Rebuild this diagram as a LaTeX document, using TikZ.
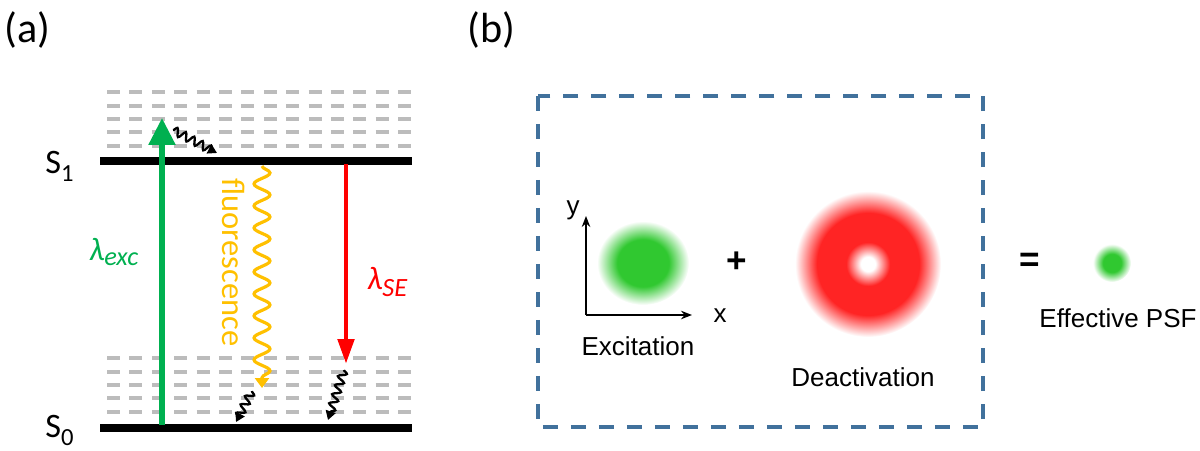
\documentclass[tikz,border=0pt]{standalone}
\usepackage{fontspec}
\setmainfont{Carlito}
\newfontfamily\arialf{Liberation Sans}
\usetikzlibrary{arrows.meta,decorations.pathmorphing}
\definecolor{lvlgray}{RGB}{188,188,188}
\definecolor{excgreen}{RGB}{0,176,80}
\definecolor{sered}{RGB}{255,0,0}
\definecolor{fluoyel}{RGB}{255,192,0}
\definecolor{boxblue}{RGB}{65,113,156}
\definecolor{blobgreen}{RGB}{48,200,48}
\definecolor{donutred}{RGB}{255,36,36}
\pgfdeclareradialshading{gblob}{\pgfpoint{0bp}{0bp}}{color(0bp)=(blobgreen); color(14bp)=(blobgreen); color(25bp)=(white); color(50bp)=(white)}
\pgfdeclareradialshading{gdot}{\pgfpoint{0bp}{0bp}}{color(0bp)=(blobgreen); color(12bp)=(blobgreen); color(25bp)=(white); color(50bp)=(white)}
\pgfdeclareradialshading{rdonut}{\pgfpoint{0bp}{0bp}}{color(0bp)=(white); color(2.5bp)=(white); color(7.5bp)=(donutred); color(17.5bp)=(donutred); color(25bp)=(white); color(50bp)=(white)}
\newcommand{\mysub}[1]{\raisebox{-5pt}{\fontsize{14}{16}\selectfont #1}}
\begin{document}
\begin{tikzpicture}[x=0.02cm,y=-0.02cm,
  panellbl/.style={font=\fontsize{24}{28}\selectfont, inner sep=0pt, anchor=west},
  level/.style={line width=4.5pt, line cap=butt},
  sublevel/.style={draw=lvlgray, line width=2pt, dash pattern=on 0.26cm off 0.188cm},
  statelbl/.style={font=\fontsize{19.5}{22}\selectfont, inner sep=0pt, anchor=base west},
  excarrow/.style={draw=excgreen, line width=3.1pt, -{Triangle[length=0.54cm,width=0.52cm]}},
  searrow/.style={draw=sered, line width=2.8pt, -{Triangle[length=0.5cm,width=0.32cm]}},
  fluowave/.style={draw=fluoyel, line width=1.8pt, decorate,
     decoration={snake, amplitude=0.16cm, segment length=0.44cm, post length=0.14cm},
     -{Triangle[length=0.2cm,width=0.28cm]}},
  relax/.style={draw=black, line width=1.3pt, decorate,
     decoration={snake, amplitude=0.08cm, segment length=0.19cm, post length=0.1cm},
     -{Triangle[length=0.18cm,width=0.2cm]}},
  axisline/.style={draw=black, line width=0.9pt, -{Stealth[length=0.22cm,width=0.17cm]}},
  arlbl/.style={font=\arialf\fontsize{14.8}{17}\selectfont, inner sep=0pt},
  opsym/.style={font=\arialf\bfseries\fontsize{20}{22}\selectfont, inner sep=0pt},
  dashbox/.style={draw=boxblue, line width=2pt, dash pattern=on 0.3cm off 0.26cm}
]
\useasboundingbox (0,0) rectangle (1200,450);

% panel labels
\node[panellbl] (la) at (4,30) {(a)};
\node[panellbl] (lb) at (467,30) {(b)};

% vibrational sublevels
\foreach \yy in {92,106,119,132,146,358,372,385,398,412}
  \draw[sublevel] (107,\yy) -- (412,\yy);

% electronic levels
\coordinate (s1l) at (100,161); \coordinate (s1r) at (412,161);
\coordinate (s0l) at (100,428); \coordinate (s0r) at (412,428);
\draw[level] (s1l) -- (s1r);
\draw[level] (s0l) -- (s0r);
\node[statelbl] (s1) at (45,173) {S\mysub{1}};
\node[statelbl] (s0) at (45,437) {S\mysub{0}};

% excitation arrow
\coordinate (g0) at (162,425); \coordinate (g1) at (162,118);
\draw[excarrow] (g0) -- (g1);
\node[statelbl, text=excgreen, font=\fontsize{18.5}{20}\selectfont\itshape] (lexc) at (89,260) {λ\raisebox{-3pt}{\fontsize{15}{17}\selectfont exc}};

% stimulated emission arrow
\coordinate (r0) at (346,164); \coordinate (r1) at (346,364);
\draw[searrow] (r0) -- (r1);
\node[statelbl, text=sered, font=\fontsize{18.5}{20}\selectfont\itshape] (lse) at (367,289) {λ\raisebox{-4pt}{\fontsize{15}{17}\selectfont SE}};

% fluorescence
\coordinate (f0) at (262,166); \coordinate (f1) at (262,388);
\draw[fluowave] (f0) -- (f1);
\node[statelbl, text=fluoyel, rotate=-90, font=\fontsize{18.5}{20}\selectfont] (lfl) at (222,178) {fluorescence};

% vibrational relaxation
\coordinate (v0) at (173,130); \coordinate (v1) at (217,153);
\draw[relax] (v0) -- (v1);
\coordinate (v2) at (252,391); \coordinate (v3) at (236,422);
\draw[relax] (v2) -- (v3);
\coordinate (v4) at (344,370); \coordinate (v5) at (328,420);
\draw[relax] (v4) -- (v5);

% panel b box
\coordinate (bx0) at (538,96); \coordinate (bx1) at (983,427);
\draw[dashbox] (bx0) rectangle (bx1);

% axes
\coordinate (ao) at (586,315); \coordinate (ay) at (586,216); \coordinate (ax) at (692,315);
\draw[axisline] (ao) -- (ay);
\draw[axisline] (ao) -- (ax);
\node[arlbl] (ylbl) at (573,210) {y};
\node[arlbl] (xlbl) at (720,316) {x};

% excitation spot
\shade[shading=gblob] (643,263) ellipse [x radius=0.92cm, y radius=0.84cm];
\node[arlbl] (lexcit) at (638,346) {Excitation};

\node[opsym] (plus) at (737,262) {+};

% deactivation donut
\shade[shading=rdonut] (868,264) circle [radius=1.46cm];
\node[arlbl] (ldeact) at (863,377) {Deactivation};

\node[opsym] (eq) at (1030,262) {=};

% effective PSF
\shade[shading=gdot] (1112,263) circle [radius=0.38cm];
\node[arlbl] (lpsf) at (1118,318) {Effective PSF};
\end{tikzpicture}
\end{document}
